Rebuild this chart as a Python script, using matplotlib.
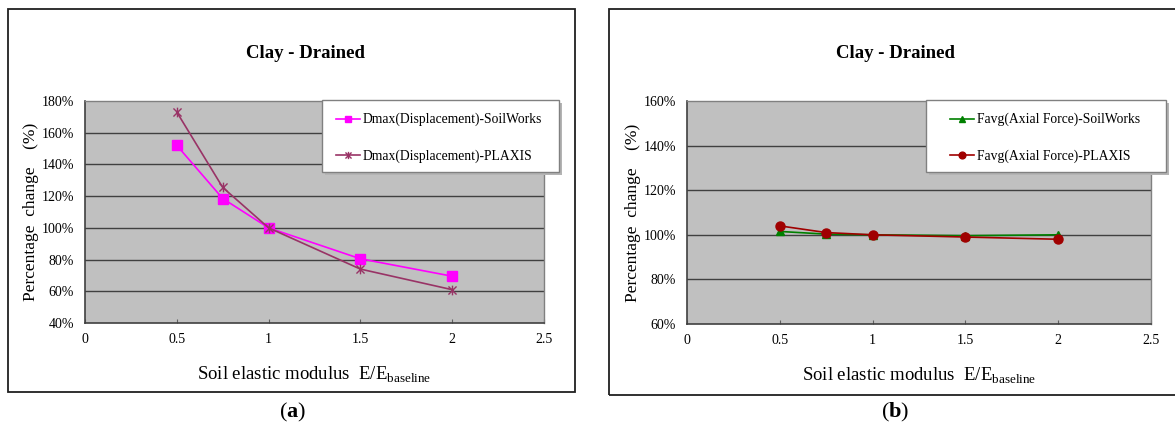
import matplotlib
matplotlib.use("Agg")
import matplotlib.pyplot as plt
from matplotlib.patches import Rectangle
from matplotlib.path import Path

plt.rcParams['font.family'] = ['Liberation Serif', 'DejaVu Serif']
plt.rcParams['mathtext.fontset'] = 'custom'
plt.rcParams['mathtext.rm'] = 'Liberation Serif'
plt.rcParams['mathtext.bf'] = 'Liberation Serif:bold'

# data
e_ratio = [0.5, 0.75, 1.0, 1.5, 2.0]
dmax_soilworks = [152, 118.5, 100, 80.5, 69.5]
dmax_plaxis = [173, 125.5, 100, 74, 61]
favg_soilworks = [101.5, 100.3, 100, 99.6, 100]
favg_plaxis = [104, 101, 100, 99, 98]

x_ticks = [0, 0.5, 1, 1.5, 2, 2.5]
x_tick_labels = ['0', '0.5', '1', '1.5', '2', '2.5']
y_ticks_a = [40, 60, 80, 100, 120, 140, 160, 180]
y_ticks_b = [60, 80, 100, 120, 140, 160]

W, H = 1175, 432

# asterisk marker: an x with a vertical bar through it
star = Path([(-1, -1), (1, 1), (-1, 1), (1, -1), (0, -1.2), (0, 1.2)],
            [Path.MOVETO, Path.LINETO, Path.MOVETO, Path.LINETO, Path.MOVETO, Path.LINETO])


def px_box(x0, y0, x1, y1):
    return [x0 / W, 1 - y1 / H, (x1 - x0) / W, (y1 - y0) / H]


def setup_axes(ax, yticks):
    ax.set_facecolor('#c0c0c0')
    ax.set_xlim(0, 2.5)
    ax.set_ylim(yticks[0], yticks[-1])
    ax.set_xticks(x_ticks)
    ax.set_xticklabels(x_tick_labels)
    ax.set_yticks(yticks)
    ax.set_yticklabels(['%d%%' % v for v in yticks])
    ax.tick_params(axis='x', direction='in', length=3, color='#606060', labelsize=10, pad=7)
    ax.tick_params(axis='y', length=0, labelsize=10, pad=8)
    for v in yticks[1:-1]:
        ax.axhline(v, color='#404040', lw=1.0, zorder=1)
    for s in ['left', 'bottom']:
        ax.spines[s].set_color('#404040')
        ax.spines[s].set_linewidth(1.2)
    for s in ['top', 'right']:
        ax.spines[s].set_color('#808080')
        ax.spines[s].set_linewidth(1.0)
    ax.set_xlabel(r'Soil elastic modulus  E/E$_{\mathrm{baseline}}$', fontsize=13.5, labelpad=14)
    ax.set_ylabel('Percentage  change    (%)', fontsize=12.5, labelpad=2)


def box_legend(ax, box, hx):
    # white box with a light shadow, frameless legend on top of it
    handles, labels = ax.get_legend_handles_labels()
    x0, y0, x1, y1 = box
    fig.patches.append(Rectangle(((x0 + 3) / W, 1 - (y1 + 3) / H), (x1 - x0) / W, (y1 - y0) / H,
                                 transform=fig.transFigure, facecolor='#b4b4b4', edgecolor='none'))
    fig.patches.append(Rectangle((x0 / W, 1 - y1 / H), (x1 - x0) / W, (y1 - y0) / H,
                                 transform=fig.transFigure, facecolor='white', edgecolor='#808080', lw=1.0))
    fig.legend(handles, labels, loc='upper left', bbox_to_anchor=(hx / W, 1 - (y0 + 13) / H),
               bbox_transform=fig.transFigure, fontsize=9.8, frameon=False,
               labelspacing=1.7, handlelength=1.75, handletextpad=0.2,
               borderpad=0, borderaxespad=0, markerscale=0.75)


fig = plt.figure(figsize=(W / 100, H / 100), dpi=100)

# outer frames around each panel
fig.patches.append(Rectangle((8 / W, 1 - 392 / H), 567 / W, 383 / H, transform=fig.transFigure,
                             fill=False, edgecolor='#202020', lw=1.3))
fig.patches.append(Rectangle((609 / W, 1 - 395 / H), 600 / W, 386 / H, transform=fig.transFigure,
                             fill=False, edgecolor='#202020', lw=1.3))

# (a) displacement
ax1 = fig.add_axes(px_box(85, 101, 544, 323))
setup_axes(ax1, y_ticks_a)
ax1.plot(e_ratio, dmax_soilworks, color='#ff00ff', lw=1.2, marker='s', ms=6.5,
         label='Dmax(Displacement)-SoilWorks', zorder=3)
ax1.plot(e_ratio, dmax_plaxis, color='#993366', lw=1.2, marker=star, ms=7, mew=1.0,
         label='Dmax(Displacement)-PLAXIS', zorder=3)
fig.text(306 / W, 1 - 53 / H, 'Clay - Drained', ha='center', va='center', fontsize=13.5, fontweight='bold')
fig.text(293 / W, 1 - 412 / H, r'($\mathbf{a}$)', ha='center', va='center', fontsize=16)

# (b) axial force
ax2 = fig.add_axes(px_box(687, 101, 1151, 324))
setup_axes(ax2, y_ticks_b)
ax2.plot(e_ratio, favg_soilworks, color='#008000', lw=1.2, marker='^', ms=6,
         label='Favg(Axial Force)-SoilWorks', zorder=3)
ax2.plot(e_ratio, favg_plaxis, color='#a00000', lw=1.2, marker='o', ms=6.5,
         label='Favg(Axial Force)-PLAXIS', zorder=3)
fig.text(895 / W, 1 - 53 / H, 'Clay - Drained', ha='center', va='center', fontsize=13.5, fontweight='bold')
fig.text(895 / W, 1 - 412 / H, r'($\mathbf{b}$)', ha='center', va='center', fontsize=16)

box_legend(ax1, (322, 100, 559, 172), 336)
box_legend(ax2, (926, 100, 1166, 172), 950)

fig.savefig('out.png', dpi=100)
